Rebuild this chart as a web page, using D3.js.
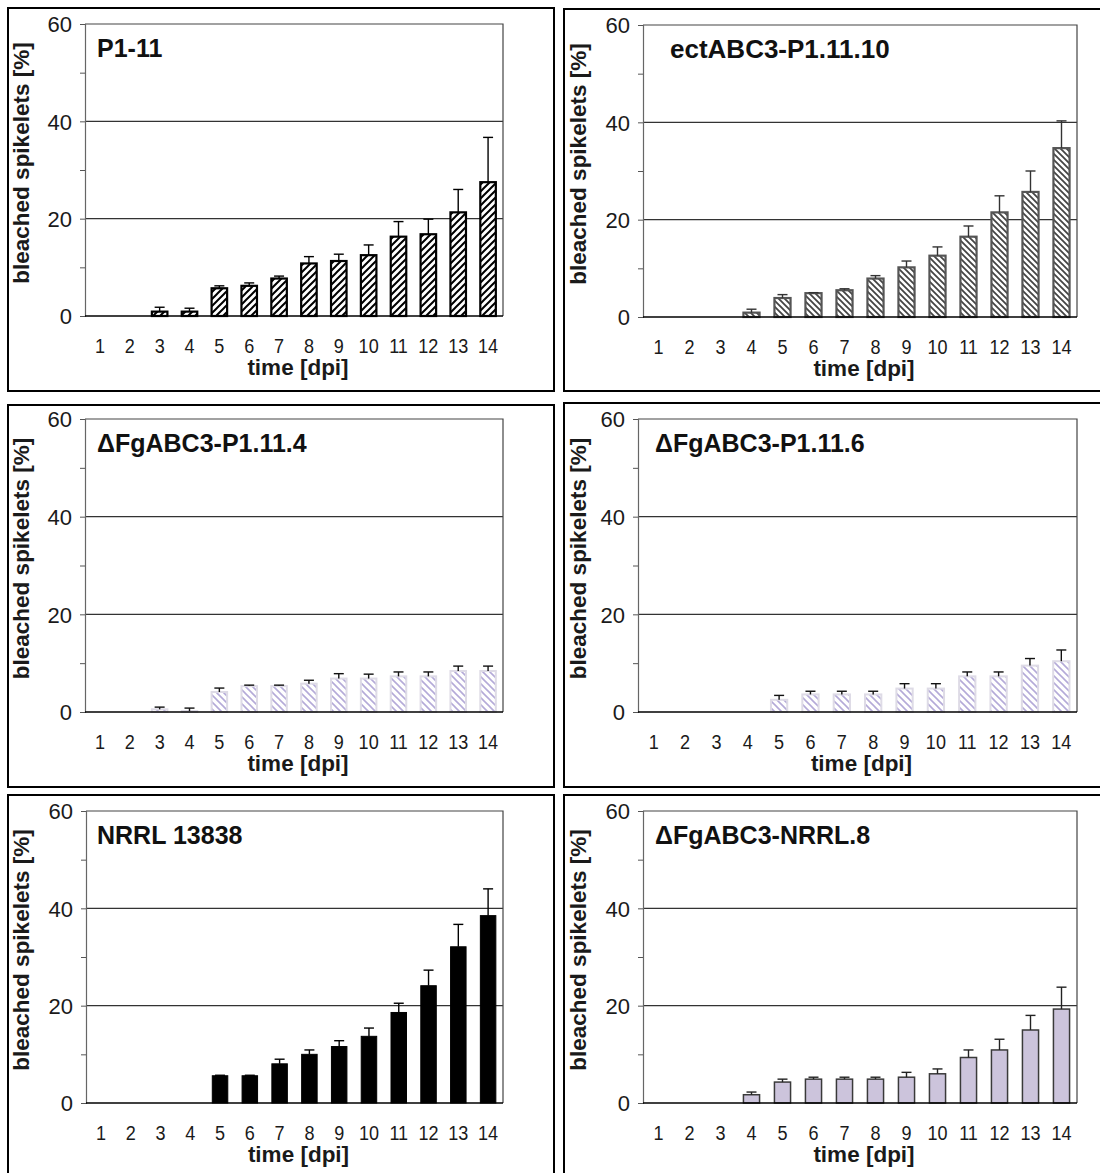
<!DOCTYPE html>
<html>
<head>
<meta charset="utf-8">
<script src="https://cdn.jsdelivr.net/npm/d3@7"></script>
<style>
  body { margin: 0; background: #fff; }
  svg { display: block; font-family: "Liberation Sans", Arial, sans-serif; }
</style>
</head>
<body>
<div id="chart"></div>
<script>
// days post inoculation
const days = [1, 2, 3, 4, 5, 6, 7, 8, 9, 10, 11, 12, 13, 14];
const yTicks = [0, 20, 40, 60];
const yMinor = [10, 30, 50];

// bleached spikelets [%] (mean, error) per strain, 0 = no bar
const p111Mean = [0, 0, 0.9, 0.9, 5.7, 6.2, 7.7, 10.8, 11.3, 12.5, 16.3, 16.8, 21.3, 27.5];
const p111Err = [0, 0, 0.9, 0.7, 0.5, 0.6, 0.5, 1.4, 1.4, 2.1, 3.1, 3.1, 4.7, 9.2];

const ectMean = [0, 0, 0, 0.9, 3.9, 4.9, 5.5, 7.9, 10.2, 12.6, 16.5, 21.5, 25.7, 34.7];
const ectErr = [0, 0, 0, 0.7, 0.7, 0.1, 0.3, 0.6, 1.3, 1.8, 2.2, 3.4, 4.3, 5.6];

const ko4Mean = [0, 0, 0.55, 0.2, 4.1, 5.3, 5.3, 5.8, 6.85, 6.85, 7.3, 7.3, 8.4, 8.4];
const ko4Err = [0, 0, 0.45, 0.6, 0.8, 0.2, 0.2, 0.7, 1.0, 0.9, 0.9, 0.9, 1.0, 1.0];

const ko6Mean = [0, 0, 0, 0, 2.5, 3.6, 3.6, 3.6, 4.8, 4.8, 7.3, 7.3, 9.5, 10.4];
const ko6Err = [0, 0, 0, 0, 0.9, 0.65, 0.65, 0.65, 1.0, 1.0, 0.9, 0.9, 1.45, 2.3];

const nrrlMean = [0, 0, 0, 0, 5.6, 5.6, 8.05, 10.0, 11.6, 13.7, 18.6, 24.1, 32.1, 38.5];
const nrrlErr = [0, 0, 0, 0, 0.1, 0.1, 0.95, 0.9, 1.2, 1.7, 1.9, 3.2, 4.6, 5.5];

const ko8Mean = [0, 0, 0, 1.7, 4.3, 4.9, 4.9, 4.9, 5.3, 6.0, 9.35, 10.9, 15.0, 19.3];
const ko8Err = [0, 0, 0, 0.55, 0.6, 0.4, 0.4, 0.4, 1.0, 1.0, 1.55, 2.2, 3.0, 4.5];

const titles = ["P1-11", "ectABC3-P1.11.10", "\u0394FgABC3-P1.11.4", "\u0394FgABC3-P1.11.6", "NRRL 13838", "\u0394FgABC3-NRRL.8"];

// bar looks
const styles = {
  fwd: { fill: "url(#hatchFwd)", stroke: "#000", sw: 2.2, err: "#000" },
  back: { fill: "url(#hatchBack)", stroke: "#555", sw: 2.2, err: "#333" },
  lilac: { fill: "url(#hatchLilac)", stroke: "#dedbe6", sw: 2, err: "#111" },
  solid: { fill: "#000", stroke: "#000", sw: 1, err: "#000" },
  purple: { fill: "#ccc4dc", stroke: "#3a3a3a", sw: 1.5, err: "#222" }
};

// panel layout: outer box and plot area [left, top, right, zero]
const panels = [
  { title: titles[0], mean: p111Mean, err: p111Err, style: "fwd", box: [8, 8, 554, 391], plot: [85, 24, 503, 316], titleX: 97, titleSize: 25, ylabX: 25 },
  { title: titles[1], mean: ectMean, err: ectErr, style: "back", box: [564, 9, 1112, 391], plot: [643, 25, 1077, 317], titleX: 670, titleSize: 26, ylabX: 582 },
  { title: titles[2], mean: ko4Mean, err: ko4Err, style: "lilac", box: [8, 405, 554, 787], plot: [85, 419, 503, 712], titleX: 97, titleSize: 25, ylabX: 25 },
  { title: titles[3], mean: ko6Mean, err: ko6Err, style: "lilac", box: [564, 403, 1112, 787], plot: [638, 419, 1077, 712], titleX: 655, titleSize: 25, ylabX: 582 },
  { title: titles[4], mean: nrrlMean, err: nrrlErr, style: "solid", box: [8, 795, 554, 1190], plot: [86, 811, 503, 1103], titleX: 97, titleSize: 25, ylabX: 25 },
  { title: titles[5], mean: ko8Mean, err: ko8Err, style: "purple", box: [564, 795, 1112, 1190], plot: [643, 811, 1077, 1103], titleX: 655, titleSize: 25, ylabX: 582 }
];

const W = 1100, H = 1173;
const FONT = "Liberation Sans, Arial, sans-serif";
const svg = d3.select("#chart").append("svg").attr("width", W).attr("height", H);

// hatch patterns
const defs = svg.append("defs");
function hatch(id, size, dir, color, sw) {
  const p = defs.append("pattern").attr("id", id).attr("patternUnits", "userSpaceOnUse")
    .attr("width", size).attr("height", size);
  p.append("rect").attr("width", size).attr("height", size).attr("fill", "#fff");
  const s = size;
  const d = dir === "fwd"
    ? `M0,${s} L${s},0 M${-s / 2},${s / 2} L${s / 2},${-s / 2} M${s / 2},${s * 1.5} L${s * 1.5},${s / 2}`
    : `M0,0 L${s},${s} M${-s / 2},${s / 2} L${s / 2},${s * 1.5} M${s / 2},${-s / 2} L${s * 1.5},${s / 2}`;
  p.append("path").attr("d", d).attr("stroke", color).attr("stroke-width", sw);
}
hatch("hatchFwd", 7, "fwd", "#000", 2);
hatch("hatchBack", 6, "back", "#444", 1.8);
hatch("hatchLilac", 7, "back", "#b4aad8", 1.6);

panels.forEach((p) => {
  const g = svg.append("g");
  const [left, top, right, zero] = p.plot;
  const st = styles[p.style];

  // outer frame
  g.append("rect")
    .attr("x", p.box[0]).attr("y", p.box[1])
    .attr("width", p.box[2] - p.box[0]).attr("height", p.box[3] - p.box[1])
    .attr("fill", "none").attr("stroke", "#000").attr("stroke-width", 2);

  const x = d3.scaleBand().domain(days).range([left, right]).paddingInner(0.48).paddingOuter(0.24);
  const y = d3.scaleLinear().domain([0, 60]).range([zero, top]);

  // gridlines at 20 and 40, plus top/right frame
  g.selectAll(".grid").data([20, 40]).enter().append("line")
    .attr("x1", left).attr("x2", right)
    .attr("y1", (d) => y(d)).attr("y2", (d) => y(d))
    .attr("stroke", "#333").attr("stroke-width", 1.2);
  g.append("path")
    .attr("d", `M${left},${y(60)} H${right} V${zero}`)
    .attr("fill", "none").attr("stroke", "#444").attr("stroke-width", 1.2);

  // y axis
  const yAxis = g.append("g").attr("transform", `translate(${left},0)`)
    .call(d3.axisLeft(y).tickValues(yTicks).tickSize(5).tickPadding(8));
  yAxis.select(".domain").attr("stroke", "#666").attr("stroke-width", 1.2);
  yAxis.selectAll(".tick line").attr("stroke", "#555");
  yAxis.selectAll("text").attr("font-size", 22).attr("fill", "#1a1a1a")
    .attr("font-family", FONT).attr("dy", "0.36em");
  const yMin = g.append("g").attr("transform", `translate(${left},0)`)
    .call(d3.axisLeft(y).tickValues(yMinor).tickSize(5).tickFormat(""));
  yMin.select(".domain").remove();
  yMin.selectAll(".tick line").attr("stroke", "#555");

  // bars
  const rows = days.map((d, i) => ({ day: d, v: p.mean[i], e: p.err[i] })).filter((r) => r.v > 0);
  g.selectAll(".bar").data(rows).enter().append("rect")
    .attr("x", (d) => x(d.day)).attr("width", x.bandwidth())
    .attr("y", (d) => y(d.v)).attr("height", (d) => zero - y(d.v))
    .attr("fill", st.fill).attr("stroke", st.stroke).attr("stroke-width", st.sw);

  // error bars (upper half only)
  const eb = g.selectAll(".err").data(rows).enter().append("g").attr("stroke", st.err).attr("stroke-width", 1.4);
  eb.append("line")
    .attr("x1", (d) => x(d.day) + x.bandwidth() / 2).attr("x2", (d) => x(d.day) + x.bandwidth() / 2)
    .attr("y1", (d) => y(d.v)).attr("y2", (d) => y(d.v + d.e));
  eb.append("line")
    .attr("x1", (d) => x(d.day) + x.bandwidth() / 2 - 5).attr("x2", (d) => x(d.day) + x.bandwidth() / 2 + 5)
    .attr("y1", (d) => y(d.v + d.e)).attr("y2", (d) => y(d.v + d.e));

  // zero baseline
  g.append("line").attr("x1", left).attr("x2", right).attr("y1", zero).attr("y2", zero)
    .attr("stroke", "#000").attr("stroke-width", 1.5);

  // x axis labels (slightly condensed like the source)
  const xAxis = g.append("g").attr("transform", `translate(0,${zero})`)
    .call(d3.axisBottom(x).tickSize(0).tickPadding(22));
  xAxis.select(".domain").remove();
  xAxis.selectAll("text").attr("font-size", 21).attr("fill", "#1a1a1a")
    .attr("font-family", FONT).attr("transform", "scale(0.86,1)");

  // axis titles
  g.append("text")
    .attr("x", (left + right) / 2 + 4).attr("y", zero + 59)
    .attr("text-anchor", "middle").attr("font-size", 22.5).attr("font-weight", "bold").attr("fill", "#1a1a1a")
    .text("time [dpi]");
  g.append("text")
    .attr("transform", `translate(${p.ylabX + 4},${(top + zero) / 2 - 7}) rotate(-90)`)
    .attr("text-anchor", "middle").attr("font-size", 22.5).attr("font-weight", "bold").attr("fill", "#1a1a1a")
    .text("bleached spikelets [%]");

  // panel title
  g.append("text")
    .attr("x", p.titleX).attr("y", top + 33)
    .attr("font-size", p.titleSize).attr("font-weight", "bold").attr("fill", "#111")
    .text(p.title);
});
</script>
</body>
</html>
